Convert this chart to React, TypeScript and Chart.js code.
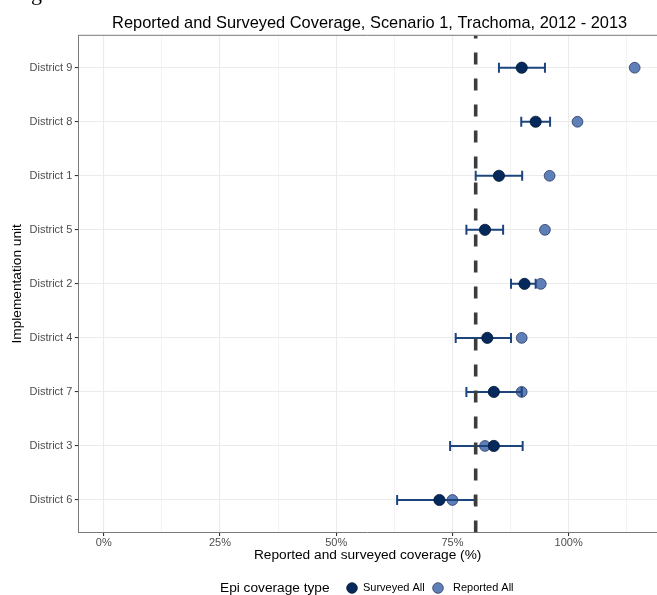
import React, { useEffect, useRef } from "react";
import { Chart, registerables } from "chart.js";

Chart.register(...registerables);

// ---- Data ----
const districts = [
  "District 9",
  "District 8",
  "District 1",
  "District 5",
  "District 2",
  "District 4",
  "District 7",
  "District 3",
  "District 6",
];
const surveyed = [89.9, 92.9, 85.0, 82.0, 90.5, 82.5, 83.9, 83.9, 72.2];
const surveyedLow = [85.0, 89.8, 80.0, 78.0, 87.6, 75.7, 78.0, 74.5, 63.1];
const surveyedHigh = [94.9, 96.0, 90.0, 85.9, 92.9, 87.6, 89.9, 90.1, 79.8];
const reported = [114.2, 101.9, 95.9, 94.9, 94.0, 89.9, 89.9, 82.0, 75.0];
const xTickValues = [0, 12.5, 25, 37.5, 50, 62.5, 75, 87.5, 100, 112.5];
const targetCoverage = 80;

const titleText = "Reported and Surveyed Coverage, Scenario 1, Trachoma, 2012 - 2013";
const xTitle = "Reported and surveyed coverage (%)";
const yTitle = "Implementation unit";
const legendTitle = "Epi coverage type";
const seriesNames = ["Surveyed All", "Reported All"];

// ---- Styles ----
const FONT = "'Liberation Sans', Arial, Helvetica, sans-serif";
const SURVEYED_FILL = "#05295b";
const SURVEYED_BORDER = "#011633";
const REPORTED_FILL = "#5e7fb8";
const REPORTED_BORDER = "#2a3b5e";
const ERRBAR = "#1c457d";
const BORDER = "#7a7a7a";
const GRID = "#ebebeb";

export default function App() {
  const canvasRef = useRef<HTMLCanvasElement | null>(null);

  useEffect(() => {
    const canvas = canvasRef.current;
    if (!canvas) return;

    const decorPlugin = {
      id: "decor",
      afterDatasetDraw(chart: any, args: any) {
        if (args.index !== 1) return;
        // error bars, drawn over reported points and under surveyed points
        const ctx = chart.ctx;
        const xs = chart.scales.x;
        const ys = chart.scales.y;
        ctx.save();
        ctx.strokeStyle = ERRBAR;
        ctx.lineWidth = 2;
        for (let i = 0; i < districts.length; i++) {
          const y = ys.getPixelForValue(i);
          const x1 = xs.getPixelForValue(surveyedLow[i]);
          const x2 = xs.getPixelForValue(surveyedHigh[i]);
          ctx.beginPath();
          ctx.moveTo(x1, y);
          ctx.lineTo(x2, y);
          ctx.moveTo(x1, y - 5);
          ctx.lineTo(x1, y + 5);
          ctx.moveTo(x2, y - 5);
          ctx.lineTo(x2, y + 5);
          ctx.stroke();
        }
        ctx.restore();
      },
      afterDatasetsDraw(chart: any) {
        const ctx = chart.ctx;
        const xs = chart.scales.x;
        const { top, bottom, left, right } = chart.chartArea;
        // dashed target line
        ctx.save();
        ctx.beginPath();
        ctx.rect(left, top, right - left, bottom - top);
        ctx.clip();
        const xv = xs.getPixelForValue(targetCoverage);
        ctx.strokeStyle = "#3c3c3c";
        ctx.lineWidth = 3.6;
        ctx.setLineDash([12, 14]);
        ctx.beginPath();
        ctx.moveTo(xv, bottom);
        ctx.lineTo(xv, top);
        ctx.stroke();
        ctx.restore();
        // top border
        ctx.save();
        ctx.strokeStyle = BORDER;
        ctx.lineWidth = 1;
        ctx.beginPath();
        ctx.moveTo(left, top);
        ctx.lineTo(right, top);
        ctx.stroke();
        ctx.restore();
      },
      afterDraw(chart: any) {
        const ctx = chart.ctx;
        const { left, right } = chart.chartArea;
        ctx.save();
        // fragment of the caption above the figure (only its descender is visible)
        ctx.fillStyle = "#000000";
        ctx.font = "22px 'Liberation Serif', 'Times New Roman', serif";
        ctx.textAlign = "left";
        ctx.textBaseline = "alphabetic";
        ctx.fillText("g", 31, -0.5);

        // title
        ctx.font = `16.4px ${FONT}`;
        ctx.textAlign = "center";
        ctx.fillText(titleText, (left + right) / 2 + 2, 28);

        // legend
        const ly = 588;
        ctx.textAlign = "left";
        ctx.textBaseline = "middle";
        ctx.font = `13.7px ${FONT}`;
        ctx.fillText(legendTitle, 220, ly);
        ctx.font = `11px ${FONT}`;
        const items = [
          { cx: 352, tx: 363, fill: SURVEYED_FILL, border: SURVEYED_BORDER, label: seriesNames[0] },
          { cx: 438, tx: 453, fill: REPORTED_FILL, border: REPORTED_BORDER, label: seriesNames[1] },
        ];
        for (const it of items) {
          ctx.beginPath();
          ctx.arc(it.cx, ly, 5.3, 0, Math.PI * 2);
          ctx.fillStyle = it.fill;
          ctx.fill();
          ctx.lineWidth = 0.8;
          ctx.strokeStyle = it.border;
          ctx.stroke();
          ctx.fillStyle = "#000000";
          ctx.fillText(it.label, it.tx, ly);
        }
        ctx.restore();
      },
    };

    const chart = new Chart(canvas, {
      type: "scatter",
      data: {
        datasets: [
          {
            label: seriesNames[0],
            data: surveyed.map((v, i) => ({ x: v, y: i })),
            backgroundColor: SURVEYED_FILL,
            borderColor: SURVEYED_BORDER,
            borderWidth: 0.8,
            pointRadius: 5.6,
          },
          {
            label: seriesNames[1],
            data: reported.map((v, i) => ({ x: v, y: i })),
            backgroundColor: REPORTED_FILL,
            borderColor: REPORTED_BORDER,
            borderWidth: 0.8,
            pointRadius: 5.4,
          },
        ],
      },
      options: {
        responsive: false,
        animation: false,
        events: [],
        layout: { autoPadding: false, padding: { top: 35.3, right: 0, left: 0, bottom: 0 } },
        plugins: {
          legend: { display: false },
          title: { display: false },
          tooltip: { enabled: false },
        },
        scales: {
          x: {
            type: "linear",
            min: -5.48,
            max: 119.0,
            afterBuildTicks: (scale: any) => {
              scale.ticks = xTickValues.map((v) => ({ value: v }));
            },
            afterFit: (scale: any) => {
              scale.height = 595 - 532.4;
            },
            ticks: {
              autoSkip: false,
              maxRotation: 0,
              padding: 0,
              color: "#4d4d4d",
              font: { family: FONT, size: 11 },
              callback: (v: any) => (Number(v) % 25 === 0 ? `${v}%` : ""),
            },
            grid: {
              color: (c: any) => (c.tick && c.tick.value % 25 === 0 ? GRID : "#f0f0f0"),
              lineWidth: (c: any) => (c.tick && c.tick.value % 25 === 0 ? 1.1 : 0.8),
              tickColor: (c: any) =>
                c.tick && c.tick.value % 25 === 0 ? "#333333" : "rgba(0,0,0,0)",
              tickLength: 3.5,
              drawTicks: true,
            },
            border: { display: true, color: BORDER, width: 1 },
            title: {
              display: true,
              text: xTitle,
              color: "#000000",
              font: { family: FONT, size: 13.7 },
              padding: { top: 0, bottom: 31.8 },
            },
          },
          y: {
            type: "linear",
            min: -0.6,
            max: 8.6,
            reverse: true,
            afterBuildTicks: (scale: any) => {
              scale.ticks = districts.map((_, i) => ({ value: i }));
            },
            afterFit: (scale: any) => {
              scale.width = 78.3;
            },
            ticks: {
              autoSkip: false,
              padding: 2.5,
              color: "#4d4d4d",
              font: { family: FONT, size: 11 },
              callback: (v: any) => districts[Number(v)] ?? "",
            },
            grid: {
              color: GRID,
              lineWidth: 1.1,
              tickColor: "#333333",
              tickLength: 3.5,
            },
            border: { display: true, color: BORDER, width: 1 },
            title: {
              display: true,
              text: yTitle,
              color: "#000000",
              font: { family: FONT, size: 13.7 },
              padding: { top: 9.3, bottom: 0 },
            },
          },
        },
      },
      plugins: [decorPlugin],
    } as any);

    return () => {
      chart.destroy();
    };
  }, []);

  return (
    <div
      style={{
        position: "fixed",
        left: 0,
        top: 0,
        width: 657,
        height: 595,
        background: "#ffffff",
      }}
    >
      <canvas ref={canvasRef} width={657} height={595} style={{ display: "block" }} />
    </div>
  );
}
